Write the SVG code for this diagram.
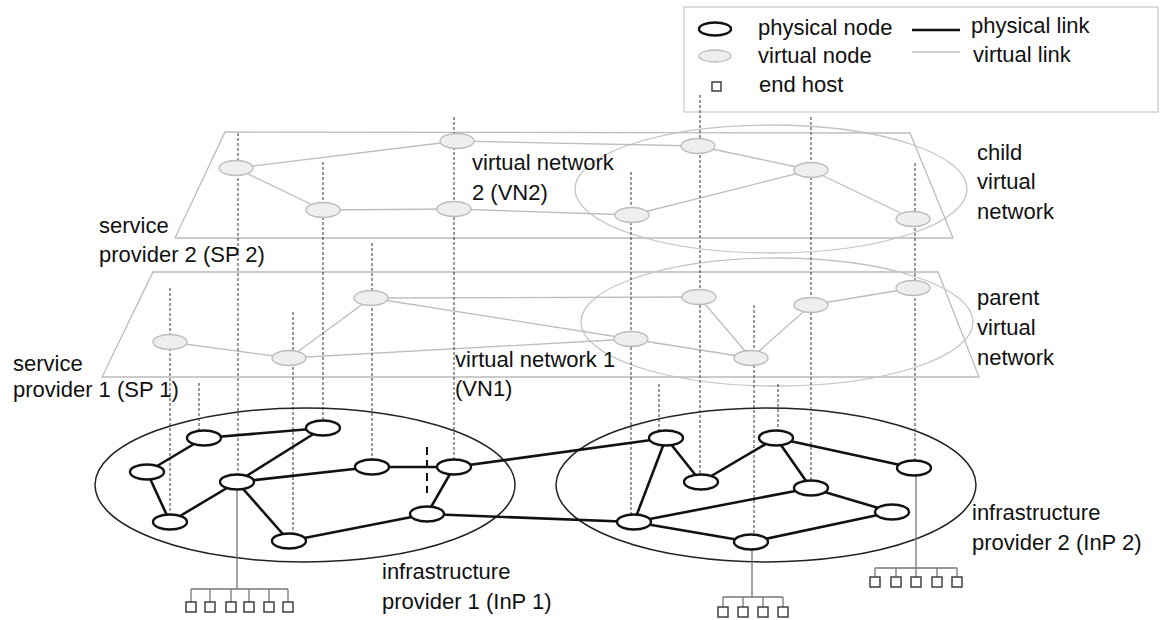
<svg xmlns="http://www.w3.org/2000/svg" width="1165" height="620" viewBox="0 0 1165 620">
<style>
text{font-family:"Liberation Sans",Arial,sans-serif;font-size:22px;fill:#111}
.plane{fill:none;stroke:#bbb;stroke-width:1.3}
.vring{fill:none;stroke:#c4c4c4;stroke-width:1.3}
.vlink{stroke:#bdbdbd;stroke-width:1.3;fill:none}
.vnode{fill:#eee;stroke:#bbb;stroke-width:1.3}
.plink{stroke:#111;stroke-width:2.6;fill:none}
.pnode{fill:#fff;stroke:#111;stroke-width:2.4}
.domain{fill:none;stroke:#222;stroke-width:1.5}
.map{stroke:#333;stroke-width:1;stroke-dasharray:3 2;fill:none}
.hline{stroke:#777;stroke-width:1.3;fill:none}
.host{fill:#fff;stroke:#333;stroke-width:1.4}
</style>

<g id="legend">
<rect x="684" y="7" width="474" height="105" fill="#fff" stroke="#ccc" stroke-width="1.3"/>
<ellipse cx="715" cy="29" rx="16" ry="6.5" class="pnode"/>
<ellipse cx="715" cy="56" rx="16" ry="6" class="vnode"/>
<rect x="712" y="82" width="9" height="9" class="host"/>
<line x1="912" y1="30" x2="960" y2="30" class="plink" stroke-width="2"/>
<line x1="912" y1="52" x2="960" y2="52" class="vlink"/>
<text x="758" y="35">physical node</text>
<text x="758" y="63">virtual node</text>
<text x="759" y="92">end host</text>
<text x="971" y="33">physical link</text>
<text x="973" y="62">virtual link</text>
</g>

<g id="sp2-plane">
<polygon points="225,132 910,133 953,238 175,238" class="plane"/>
<ellipse cx="771" cy="189" rx="196" ry="64" class="vring"/>
</g>
<g id="sp1-plane">
<polygon points="153,272 938,272 979,377 102,377" class="plane"/>
<ellipse cx="777" cy="322" rx="196" ry="64" class="vring"/>
</g>

<g id="inp-domains">
<ellipse cx="305" cy="485" rx="210" ry="77" class="domain"/>
<ellipse cx="766" cy="485" rx="210" ry="77" class="domain"/>
</g>

<g id="connectors">
<g id="virtual-links-vn2">
<line x1="236" y1="168" x2="457" y2="141" class="vlink"/>
<line x1="236" y1="168" x2="323" y2="210" class="vlink"/>
<line x1="323" y1="210" x2="454" y2="209" class="vlink"/>
<line x1="454" y1="209" x2="632" y2="215" class="vlink"/>
<line x1="457" y1="141" x2="698" y2="146" class="vlink"/>
<line x1="698" y1="146" x2="811" y2="170" class="vlink"/>
<line x1="632" y1="215" x2="811" y2="170" class="vlink"/>
<line x1="811" y1="170" x2="913" y2="219" class="vlink"/>
</g>
<g id="virtual-links-vn1">
<line x1="170" y1="342" x2="289" y2="358" class="vlink"/>
<line x1="289" y1="358" x2="371" y2="298" class="vlink"/>
<line x1="289" y1="358" x2="631" y2="339" class="vlink"/>
<line x1="371" y1="298" x2="699" y2="297" class="vlink"/>
<line x1="371" y1="298" x2="631" y2="339" class="vlink"/>
<line x1="631" y1="339" x2="751" y2="358" class="vlink"/>
<line x1="699" y1="297" x2="751" y2="358" class="vlink"/>
<line x1="751" y1="358" x2="811" y2="305" class="vlink"/>
<line x1="811" y1="305" x2="913" y2="288" class="vlink"/>
</g>
<g id="mappings">
<line x1="238" y1="133" x2="238" y2="475" class="map"/>
<line x1="323" y1="162" x2="323" y2="421" class="map"/>
<line x1="454" y1="117" x2="454" y2="460" class="map"/>
<line x1="372" y1="243" x2="372" y2="460" class="map"/>
<line x1="170" y1="288" x2="170" y2="515" class="map"/>
<line x1="199" y1="383" x2="199" y2="431" class="map"/>
<line x1="293" y1="312" x2="293" y2="534" class="map"/>
<line x1="631" y1="172" x2="631" y2="515" class="map"/>
<line x1="700" y1="95" x2="700" y2="475" class="map"/>
<line x1="659" y1="384" x2="659" y2="431" class="map"/>
<line x1="754" y1="305" x2="754" y2="535" class="map"/>
<line x1="778" y1="384" x2="778" y2="431" class="map"/>
<line x1="811" y1="117" x2="811" y2="481" class="map"/>
<line x1="915" y1="163" x2="915" y2="461" class="map"/>
</g>
<g id="physical-links">
<line x1="204" y1="438" x2="323" y2="428" class="plink"/>
<line x1="204" y1="438" x2="147" y2="472" class="plink"/>
<line x1="147" y1="472" x2="170" y2="522" class="plink"/>
<line x1="170" y1="522" x2="237" y2="482" class="plink"/>
<line x1="237" y1="482" x2="323" y2="428" class="plink"/>
<line x1="237" y1="482" x2="372" y2="467" class="plink"/>
<line x1="372" y1="467" x2="454" y2="467" class="plink"/>
<line x1="237" y1="482" x2="289" y2="541" class="plink"/>
<line x1="289" y1="541" x2="427" y2="514" class="plink"/>
<line x1="427" y1="514" x2="454" y2="467" class="plink"/>
<line x1="454" y1="467" x2="666" y2="438" class="plink"/>
<line x1="427" y1="514" x2="634" y2="522" class="plink"/>
<line x1="666" y1="438" x2="701" y2="482" class="plink"/>
<line x1="666" y1="438" x2="634" y2="522" class="plink"/>
<line x1="776" y1="438" x2="701" y2="482" class="plink"/>
<line x1="776" y1="438" x2="914" y2="468" class="plink"/>
<line x1="776" y1="438" x2="811" y2="488" class="plink"/>
<line x1="811" y1="488" x2="634" y2="522" class="plink"/>
<line x1="811" y1="488" x2="892" y2="512" class="plink"/>
<line x1="892" y1="512" x2="751" y2="542" class="plink"/>
<line x1="751" y1="542" x2="634" y2="522" class="plink"/>
<line x1="427" y1="447" x2="427" y2="493" stroke="#111" stroke-width="2" stroke-dasharray="8 5"/>
</g>
<g id="host-links">
<path d="M237,489 V589 M191,589 H288 M191,589 V602 M210,589 V602 M231,589 V602 M249,589 V602 M269,589 V602 M288,589 V602" class="hline"/>
<path d="M752,549 V597 M723,597 H783 M723,597 V607 M743,597 V607 M763,597 V607 M783,597 V607" class="hline"/>
<path d="M916,475 V568 M875,568 H957 M875,568 V577 M896,568 V577 M916,568 V577 M937,568 V577 M957,568 V577" class="hline"/>
</g>
</g>

<g id="vn2-nodes">
<g id="vA"><ellipse cx="236" cy="168" rx="17" ry="7.5" class="vnode"/></g>
<g id="vB"><ellipse cx="457" cy="141" rx="17" ry="7.5" class="vnode"/></g>
<g id="vC"><ellipse cx="323" cy="210" rx="17" ry="7.5" class="vnode"/></g>
<g id="vD"><ellipse cx="454" cy="209" rx="17" ry="7.5" class="vnode"/></g>
<g id="vE"><ellipse cx="698" cy="146" rx="17" ry="7.5" class="vnode"/></g>
<g id="vF"><ellipse cx="811" cy="170" rx="17" ry="7.5" class="vnode"/></g>
<g id="vG"><ellipse cx="632" cy="215" rx="17" ry="7.5" class="vnode"/></g>
<g id="vH"><ellipse cx="913" cy="219" rx="17" ry="7.5" class="vnode"/></g>
</g>
<g id="vn1-nodes">
<g id="va"><ellipse cx="170" cy="342" rx="17" ry="7.5" class="vnode"/></g>
<g id="vb"><ellipse cx="289" cy="358" rx="17" ry="7.5" class="vnode"/></g>
<g id="vc"><ellipse cx="371" cy="298" rx="17" ry="7.5" class="vnode"/></g>
<g id="vd"><ellipse cx="631" cy="339" rx="17" ry="7.5" class="vnode"/></g>
<g id="ve"><ellipse cx="699" cy="297" rx="17" ry="7.5" class="vnode"/></g>
<g id="vf"><ellipse cx="751" cy="358" rx="17" ry="7.5" class="vnode"/></g>
<g id="vg"><ellipse cx="811" cy="305" rx="17" ry="7.5" class="vnode"/></g>
<g id="vh"><ellipse cx="913" cy="288" rx="17" ry="7.5" class="vnode"/></g>
</g>
<g id="inp1-nodes">
<g id="q1"><ellipse cx="204" cy="438" rx="17" ry="7.5" class="pnode"/></g>
<g id="q2"><ellipse cx="323" cy="428" rx="17" ry="7.5" class="pnode"/></g>
<g id="q3"><ellipse cx="147" cy="472" rx="17" ry="7.5" class="pnode"/></g>
<g id="q4"><ellipse cx="237" cy="482" rx="17" ry="7.5" class="pnode"/></g>
<g id="q5"><ellipse cx="372" cy="467" rx="17" ry="7.5" class="pnode"/></g>
<g id="q6"><ellipse cx="454" cy="467" rx="17" ry="7.5" class="pnode"/></g>
<g id="q7"><ellipse cx="170" cy="522" rx="17" ry="7.5" class="pnode"/></g>
<g id="q8"><ellipse cx="289" cy="541" rx="17" ry="7.5" class="pnode"/></g>
<g id="q9"><ellipse cx="427" cy="514" rx="17" ry="7.5" class="pnode"/></g>
</g>
<g id="inp2-nodes">
<g id="p1"><ellipse cx="666" cy="438" rx="17" ry="7.5" class="pnode"/></g>
<g id="p2"><ellipse cx="701" cy="482" rx="17" ry="7.5" class="pnode"/></g>
<g id="p3"><ellipse cx="776" cy="438" rx="17" ry="7.5" class="pnode"/></g>
<g id="p4"><ellipse cx="914" cy="468" rx="17" ry="7.5" class="pnode"/></g>
<g id="p5"><ellipse cx="811" cy="488" rx="17" ry="7.5" class="pnode"/></g>
<g id="p6"><ellipse cx="892" cy="512" rx="17" ry="7.5" class="pnode"/></g>
<g id="p7"><ellipse cx="634" cy="522" rx="17" ry="7.5" class="pnode"/></g>
<g id="p8"><ellipse cx="751" cy="542" rx="17" ry="7.5" class="pnode"/></g>
</g>
<g id="end-hosts">
<g id="hosts-inp1">
<rect x="186" y="602" width="10" height="10" class="host"/>
<rect x="205" y="602" width="10" height="10" class="host"/>
<rect x="226" y="602" width="10" height="10" class="host"/>
<rect x="244" y="602" width="10" height="10" class="host"/>
<rect x="264" y="602" width="10" height="10" class="host"/>
<rect x="283" y="602" width="10" height="10" class="host"/>
</g>
<g id="hosts-inp2a">
<rect x="718" y="607" width="10" height="10" class="host"/>
<rect x="738" y="607" width="10" height="10" class="host"/>
<rect x="758" y="607" width="10" height="10" class="host"/>
<rect x="778" y="607" width="10" height="10" class="host"/>
</g>
<g id="hosts-inp2b">
<rect x="870" y="577" width="10" height="10" class="host"/>
<rect x="891" y="577" width="10" height="10" class="host"/>
<rect x="911" y="577" width="10" height="10" class="host"/>
<rect x="932" y="577" width="10" height="10" class="host"/>
<rect x="952" y="577" width="10" height="10" class="host"/>
</g>
</g>

<g id="labels">
<text x="472" y="170">virtual network</text>
<text x="472" y="200">2 (VN2)</text>
<text x="977" y="160">child</text>
<text x="977" y="189">virtual</text>
<text x="977" y="219">network</text>
<text x="99" y="233">service</text>
<text x="99" y="262">provider 2 (SP 2)</text>
<text x="977" y="305">parent</text>
<text x="977" y="335">virtual</text>
<text x="977" y="365">network</text>
<text x="13" y="371">service</text>
<text x="13" y="397">provider 1 (SP 1)</text>
<text x="455" y="367">virtual network 1</text>
<text x="455" y="396">(VN1)</text>
<text x="382" y="579">infrastructure</text>
<text x="382" y="609">provider 1 (InP 1)</text>
<text x="972" y="520">infrastructure</text>
<text x="972" y="550">provider 2 (InP 2)</text>
</g>
</svg>
